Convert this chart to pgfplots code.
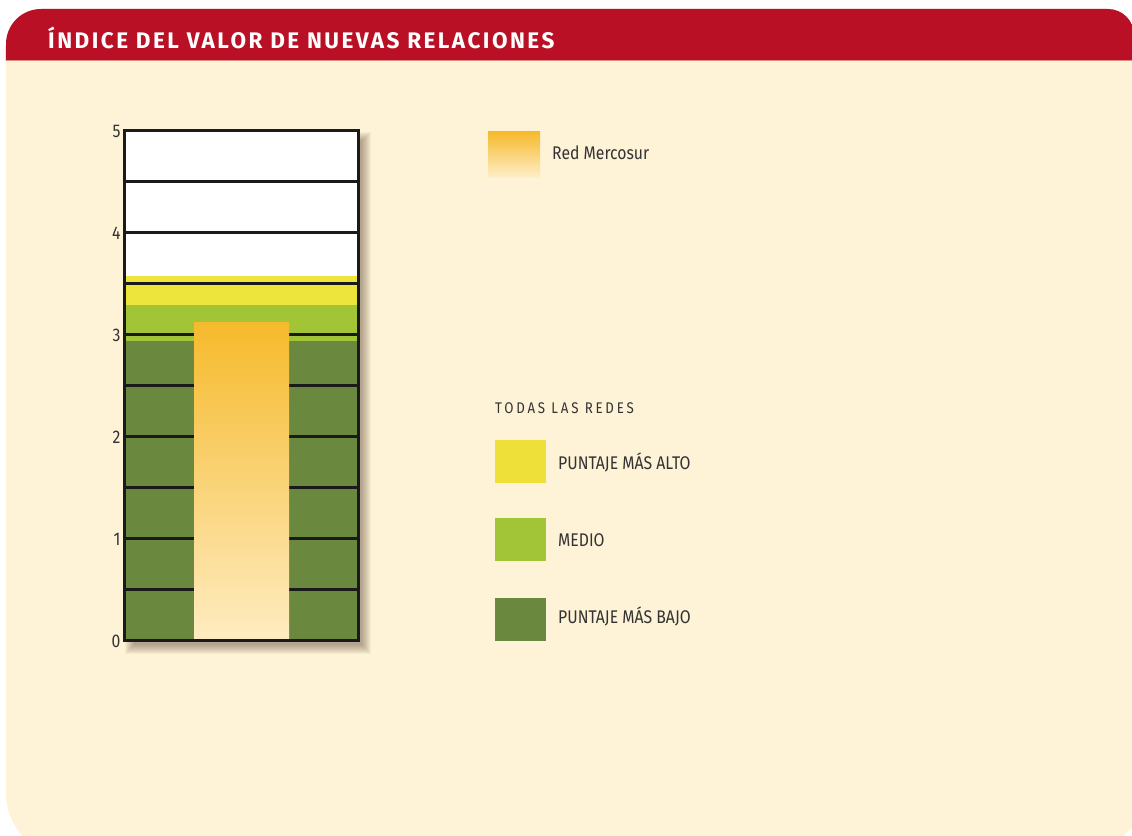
\documentclass[border=0pt]{standalone}
\usepackage{fontspec}
\setmainfont{Fira Sans}
\newfontfamily\cond[FakeStretch=0.86]{Fira Sans}
\newfontfamily\condsp[FakeStretch=0.86,LetterSpace=18]{Fira Sans}
\newfontfamily\titlefont[LetterSpace=11]{Fira Sans}
\usepackage{pgfplots}
\pgfplotsset{compat=1.18}
\definecolor{hdr}{RGB}{186,16,38}
\definecolor{cream}{RGB}{254,242,215}
\definecolor{yel}{RGB}{237,228,60}
\definecolor{lgreen}{RGB}{162,197,56}
\definecolor{dgreen}{RGB}{107,137,62}
\definecolor{orT}{RGB}{246,186,44}
\definecolor{orB}{RGB}{254,236,194}
\definecolor{txt}{RGB}{51,51,51}
\definecolor{axk}{RGB}{26,26,26}
\begin{document}
\begin{tikzpicture}[x=1bp,y=1bp]
\fill[white] (0,0) rectangle (1132,836);
\begin{scope}
\clip (0,0) rectangle (1132,836);
% panel
\def\panel{(22.9,0) arc[start angle=223, end angle=180, radius=63] -- (6,792) arc[start angle=180, end angle=90, radius=35] -- (1108,827) arc[start angle=90, end angle=0, radius=26] -- (1134,11) -- (1123,0) -- cycle}
\fill[cream] \panel;
\clip \panel;
\fill[hdr] (0,775) rectangle (1132,836);
\draw[hdr!45!cream, line width=1bp] (0,775) -- (1132,775);
\end{scope}
\node[anchor=base west, text=white, inner sep=0pt, font=\titlefont\bfseries\fontsize{22.6}{24}\selectfont] at (48,787.7) {ÍNDICE DEL VALOR DE NUEVAS RELACIONES};
% soft shadow of the box
\foreach \i in {-3,...,6}{
  \fill[black!70!brown, opacity=0.045] (131-\i,188-\i) rectangle (365+\i,698+\i);
}
\begin{axis}[
  at={(124bp,195bp)}, anchor=south west,
  scale only axis, width=234bp, height=510bp,
  xmin=0, xmax=1, ymin=0, ymax=5,
  xtick=\empty, ytick={0,1,2,3,4,5},
  major tick length=0pt,
  axis on top,
  axis line style={line width=3bp, color=axk},
  axis background/.style={fill=white},
  /pgf/number format/assume math mode=true,
  yticklabel style={font=\cond\fontsize{18.4}{19}\selectfont, text=txt},
]
\addplot[fill=yel, draw=none] coordinates {(0,3.58) (1,3.58)} \closedcycle;
\addplot[fill=lgreen, draw=none] coordinates {(0,3.29) (1,3.29)} \closedcycle;
\addplot[fill=dgreen, draw=none] coordinates {(0,2.94) (1,2.94)} \closedcycle;
\pgfplotsinvokeforeach{0.5,1,1.5,2,2.5,3,3.5,4,4.5}{
  \addplot[line width=3bp, color=axk] coordinates {(0,#1) (1,#1)};
}
\addplot[ybar, bar width=0.406, bar shift=0pt, draw=none, top color=orT, bottom color=orB] coordinates {(0.5025,3.12)};
\end{axis}
% legend
\fill[top color=orT, bottom color=orB!60!cream] (488,658) rectangle (540,704);
\node[anchor=base west, inner sep=0pt, text=txt, font=\cond\fontsize{18.4}{20}\selectfont] at (552,676) {Red Mercosur};
\node[anchor=base west, inner sep=0pt, text=txt, font=\condsp\fontsize{15.5}{17}\selectfont] at (495,422) {TODAS LAS REDES};
\fill[yel!95!orange] (495,353) rectangle (546,396);
\node[anchor=base west, inner sep=0pt, text=txt, font=\cond\fontsize{18.4}{20}\selectfont] at (558,366.7) {PUNTAJE MÁS ALTO};
\fill[lgreen] (495,275) rectangle (546,318);
\node[anchor=base west, inner sep=0pt, text=txt, font=\cond\fontsize{18.4}{20}\selectfont] at (558,289.3) {MEDIO};
\fill[dgreen] (495,195) rectangle (546,238);
\node[anchor=base west, inner sep=0pt, text=txt, font=\cond\fontsize{18.4}{20}\selectfont] at (558,212.7) {PUNTAJE MÁS BAJO};
\pgfresetboundingbox
\useasboundingbox (0,0) rectangle (1132,836);
\end{tikzpicture}
\end{document}
